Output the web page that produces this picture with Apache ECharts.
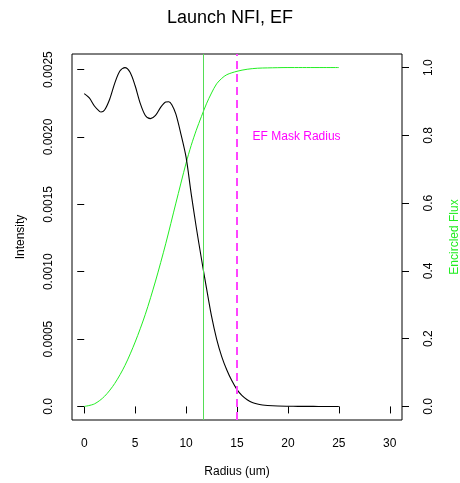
<!DOCTYPE html>
<html>
<head>
<meta charset="utf-8">
<script src="https://cdn.jsdelivr.net/npm/echarts/dist/echarts.min.js"></script>
<style>html,body{margin:0;padding:0;background:#fff}#c{width:460px;height:483px}</style>
</head>
<body>
<div id="c"></div>
<script>
// ---- data ----
const title = "Launch NFI, EF";
const xTicks = [0, 5, 10, 15, 20, 25, 30];
const intensityTicks = [0, 0.0005, 0.0010, 0.0015, 0.0020, 0.0025];
const intensityTickLabels = ["0.0", "0.0005", "0.0010", "0.0015", "0.0020", "0.0025"];
const efTicks = [0, 0.2, 0.4, 0.6, 0.8, 1.0];
const efTickLabels = ["0.0", "0.2", "0.4", "0.6", "0.8", "1.0"];

const intensityRadius = [0, 0.5, 1, 1.5, 1.65, 2, 2.5, 3, 3.5, 4, 4.5, 5, 5.5, 6, 6.5, 7, 7.5, 8, 8.3, 8.6, 9, 9.5, 10, 10.5, 11, 11.5, 12, 12.5, 13, 13.5, 14, 14.5, 15, 15.5, 16, 16.5, 17, 17.5, 18, 19, 20, 21, 22, 23, 24, 25];
const intensity = [0.002322, 0.00229, 0.00223, 0.00219, 0.002185, 0.0022, 0.00228, 0.0024, 0.00249, 0.002515, 0.00248, 0.00238, 0.00225, 0.00216, 0.002136, 0.00216, 0.00222, 0.00226, 0.002262, 0.00224, 0.00217, 0.00202, 0.00185, 0.00158, 0.00133, 0.00110, 0.00088, 0.00067, 0.00050, 0.00037, 0.00027, 0.00019, 0.000125, 0.00008, 0.00005, 0.00003, 0.000018, 0.000011, 0.000007, 0.000003, 0.0000015, 0.0000007, 0.0000003, 0.0000001, 0, 0];

const efRadius = [0, 1, 2, 3, 4, 5, 6, 7, 8, 9, 10, 10.5, 11, 11.5, 12, 12.5, 13, 13.5, 14, 15, 16, 17, 18, 20, 25];
const encircledFlux = [0, 0.0075, 0.030, 0.068, 0.121, 0.19, 0.272, 0.37, 0.48, 0.60, 0.718, 0.77, 0.815, 0.855, 0.893, 0.925, 0.952, 0.968, 0.979, 0.989, 0.995, 0.998, 0.999, 1.0, 1.0];

const solidLineX = 11.68;
const maskRadius = 15;
const maskLabel = "EF Mask Radius";
const maskLabelPos = [20.85, 0.002];

// ---- chart ----
const FONT = "'Liberation Sans', Arial, sans-serif";
const intensityPairs = intensityRadius.map((r, i) => [r, intensity[i]]);
const efPairs = efRadius.map((r, i) => [r, encircledFlux[i]]);

const chart = echarts.init(document.getElementById('c'), null, {renderer: 'canvas'});
chart.setOption({
  animation: false,
  backgroundColor: '#fff',
  title: {
    text: title, left: 'center', top: 4,
    textStyle: {fontFamily: FONT, fontSize: 18, fontWeight: 'normal', color: '#000'}
  },
  grid: {left: 72, right: 58, top: 54, bottom: 63, show: true, borderColor: '#000', borderWidth: 1, backgroundColor: 'transparent', containLabel: false},
  xAxis: {
    type: 'value', min: -1.2, max: 31.2,
    axisLine: {show: false},
    splitLine: {show: false},
    axisTick: {show: true, inside: false, length: 7, lineStyle: {color: '#000', width: 1}, customValues: xTicks},
    axisLabel: {customValues: xTicks, margin: 18, color: '#000', fontFamily: FONT, fontSize: 12, formatter: v => String(v)}
  },
  yAxis: [
    {
      type: 'value', min: -0.0001006, max: 0.002616, position: 'left',
      axisLine: {show: false}, splitLine: {show: false},
      axisTick: {show: true, length: 7, lineStyle: {color: '#000', width: 1}, customValues: intensityTicks},
      axisLabel: {customValues: intensityTicks, rotate: 90, margin: 17, color: '#000', fontFamily: FONT, fontSize: 12,
        formatter: v => { const i = intensityTicks.findIndex(t => Math.abs(t - v) < 1e-9); return i >= 0 ? intensityTickLabels[i] : ''; }}
    },
    {
      type: 'value', min: -0.04, max: 1.04, position: 'right',
      axisLine: {show: false}, splitLine: {show: false},
      axisTick: {show: true, length: 7, lineStyle: {color: '#000', width: 1}, customValues: efTicks},
      axisLabel: {customValues: efTicks, rotate: 90, margin: 21, color: '#000', fontFamily: FONT, fontSize: 12,
        formatter: v => { const i = efTicks.findIndex(t => Math.abs(t - v) < 1e-9); return i >= 0 ? efTickLabels[i] : ''; }}
    }
  ],
  graphic: [
    {type: 'text', x: 21, y: 237, rotation: Math.PI / 2, style: {text: 'Intensity', fill: '#000', font: "12px 'Liberation Sans', Arial, sans-serif", align: 'center', verticalAlign: 'middle'}},
    {type: 'text', x: 455, y: 237, rotation: Math.PI / 2, style: {text: 'Encircled Flux', fill: '#22ee22', font: "12px 'Liberation Sans', Arial, sans-serif", align: 'center', verticalAlign: 'middle'}},
    {type: 'text', x: 237, y: 472, style: {text: 'Radius (um)', fill: '#000', font: "12px 'Liberation Sans', Arial, sans-serif", align: 'center', verticalAlign: 'middle'}}
  ],
  series: [
    {
      type: 'line', name: 'Encircled Flux', yAxisIndex: 1, data: efPairs, smooth: 0.3, showSymbol: false,
      lineStyle: {color: '#22ee22', width: 1}, z: 2
    },
    {
      type: 'line', name: 'Intensity', yAxisIndex: 0, data: intensityPairs, smooth: 0.3, showSymbol: false,
      lineStyle: {color: '#000', width: 1.1}, z: 3,
      markLine: {
        silent: true, symbol: 'none', label: {show: false},
        data: [
          {xAxis: solidLineX, lineStyle: {color: '#55dd55', width: 1, type: 'solid'}},
          {xAxis: maskRadius, lineStyle: {color: '#ff44ff', width: 2, type: [8, 5]}}
        ]
      },
      markPoint: {
        silent: true, symbol: 'circle', symbolSize: 0,
        data: [{coord: maskLabelPos, value: maskLabel}],
        label: {show: true, position: 'inside', formatter: maskLabel, color: '#ff00ff', fontFamily: FONT, fontSize: 12}
      }
    }
  ]
});
</script>
</body>
</html>
